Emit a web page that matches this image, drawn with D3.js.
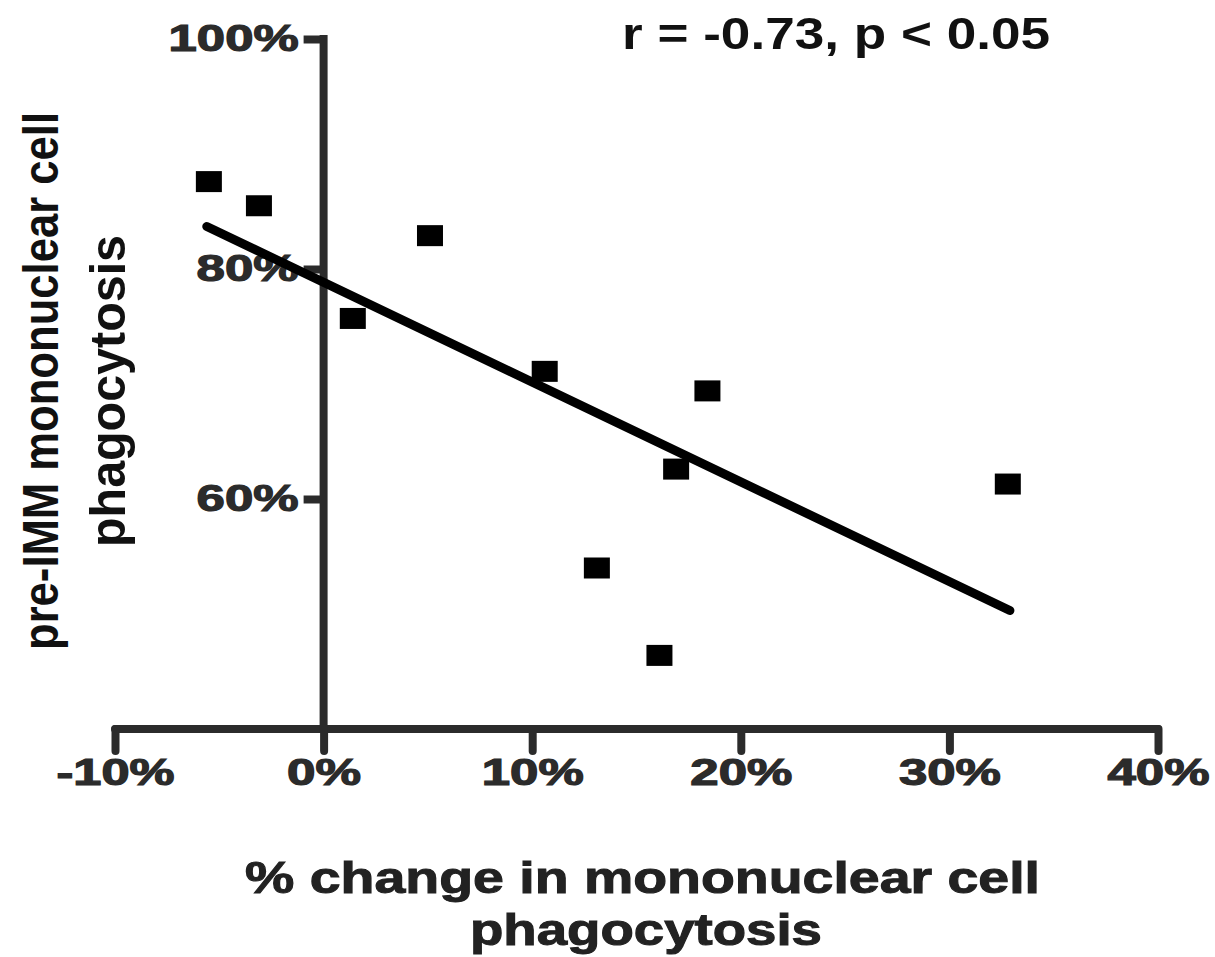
<!DOCTYPE html>
<html>
<head>
<meta charset="utf-8">
<script src="https://cdn.jsdelivr.net/npm/d3@7"></script>
<style>
  body { margin: 0; background: #fff; }
  svg text { font-family: "Liberation Sans", Arial, sans-serif; font-weight: bold; }
</style>
</head>
<body>
<script>
// % change in phagocytosis (x) vs pre-IMM phagocytosis (y)
var changePct = [-5.5, -3.1, 5.1, 1.4, 10.6, 18.4, 16.9, 32.8, 13.1, 16.1];
var prePct    = [87.6, 85.5, 82.9, 75.7, 71.1, 69.4, 62.6, 61.3, 54.0, 46.4];

// regression line end points
var fitX = [-5.6, 32.9];
var fitY = [83.7, 50.3];

var xTicks = [-10, 0, 10, 20, 30, 40];
var yTicks = [60, 80, 100];

var width = 1215, height = 957;
var axisColor = "#2b2b2b";
var tickFont = "'DejaVu Sans', Verdana, sans-serif";

// wide heavy tick lettering: stretch each label to a set width
function labelWidth(s) {
  var w = 0;
  for (var c of s) w += (c === "%") ? 46 : (c === "-") ? 16 : 28;
  return w;
}

var svg = d3.select("body").append("svg")
        .attr("width", width)
        .attr("height", height);

var x = d3.scaleLinear().domain([-10, 40]).range([115, 1158]);
var y = d3.scaleLinear().domain([40, 100]).range([729, 39]);

// x axis (crosses at y = 40%)
var xAxis = d3.axisBottom(x)
        .tickValues(xTicks)
        .tickSize(22)
        .tickSizeOuter(0)
        .tickPadding(8)
        .tickFormat(function(d){ return d + "%"; });

var gx = svg.append("g")
        .attr("transform", "translate(0," + y(40) + ")")
        .call(xAxis);
gx.select(".domain").remove();
gx.append("line")
        .attr("x1", x(-10)).attr("x2", x(40))
        .attr("stroke", axisColor).attr("stroke-width", 8).attr("stroke-linecap", "round");
gx.selectAll(".tick line")
        .attr("stroke", axisColor).attr("stroke-width", 8).attr("stroke-linecap", "round");
gx.selectAll(".tick text")
        .attr("fill", axisColor)
        .attr("font-family", tickFont)
        .attr("font-size", 36)
        .attr("textLength", function(d){ return labelWidth(d + "%"); })
        .attr("lengthAdjust", "spacingAndGlyphs")
        .attr("stroke", axisColor).attr("stroke-width", 1.2);

// y axis (crosses at x = 0%)
var yAxis = d3.axisLeft(y)
        .tickValues(yTicks)
        .tickSize(20)
        .tickSizeOuter(0)
        .tickPadding(5)
        .tickFormat(function(d){ return d + "%"; });

var gy = svg.append("g")
        .attr("transform", "translate(" + x(0) + ",0)")
        .call(yAxis);
gy.select(".domain").remove();
gy.append("line")
        .attr("y1", y(100)).attr("y2", y(40))
        .attr("stroke", axisColor).attr("stroke-width", 8).attr("stroke-linecap", "square");
gy.selectAll(".tick line")
        .attr("stroke", axisColor).attr("stroke-width", 8);
gy.selectAll(".tick text")
        .attr("fill", axisColor)
        .attr("font-family", tickFont)
        .attr("font-size", 36)
        .attr("textLength", function(d){ return labelWidth(d + "%"); })
        .attr("lengthAdjust", "spacingAndGlyphs")
        .attr("stroke", axisColor).attr("stroke-width", 1.2);

// regression line
svg.append("line")
        .attr("x1", x(fitX[0])).attr("y1", y(fitY[0]))
        .attr("x2", x(fitX[1])).attr("y2", y(fitY[1]))
        .attr("stroke", "#000")
        .attr("stroke-width", 9)
        .attr("stroke-linecap", "round");

// points
svg.selectAll("rect.pt")
        .data(changePct)
        .enter().append("rect")
                .attr("class", "pt")
                .attr("x", function(d){ return x(d) - 13; })
                .attr("y", function(d,i){ return y(prePct[i]) - 10.5; })
                .attr("width", 26)
                .attr("height", 21)
                .attr("fill", "#000");

// stats annotation
svg.append("text")
        .attr("x", 622).attr("y", 49)
        .attr("font-size", 45)
        .attr("textLength", 428)
        .attr("lengthAdjust", "spacingAndGlyphs")
        .attr("fill", "#111")
        .text("r = -0.73, p < 0.05");

// y axis title (tall, condensed lettering)
var yt = svg.append("g")
        .attr("transform", "translate(0,381) rotate(-90)");
yt.append("text")
        .attr("x", -269).attr("y", 58)
        .attr("font-size", 50)
        .attr("textLength", 538)
        .attr("lengthAdjust", "spacingAndGlyphs")
        .attr("fill", "#111")
        .text("pre-IMM mononuclear cell");
yt.append("text")
        .attr("x", -166).attr("y", 125)
        .attr("font-size", 50)
        .attr("textLength", 312)
        .attr("lengthAdjust", "spacingAndGlyphs")
        .attr("fill", "#111")
        .text("phagocytosis");

// x axis title (wide lettering)
svg.append("text")
        .attr("x", 245).attr("y", 893)
        .attr("font-family", tickFont)
        .attr("font-size", 44)
        .attr("textLength", 795)
        .attr("lengthAdjust", "spacingAndGlyphs")
        .attr("fill", "#222")
        .attr("stroke", "#222").attr("stroke-width", 1)
        .text("% change in mononuclear cell");
svg.append("text")
        .attr("x", 470).attr("y", 945)
        .attr("font-family", tickFont)
        .attr("font-size", 44)
        .attr("textLength", 352)
        .attr("lengthAdjust", "spacingAndGlyphs")
        .attr("fill", "#222")
        .attr("stroke", "#222").attr("stroke-width", 1)
        .text("phagocytosis");
</script>
</body>
</html>
